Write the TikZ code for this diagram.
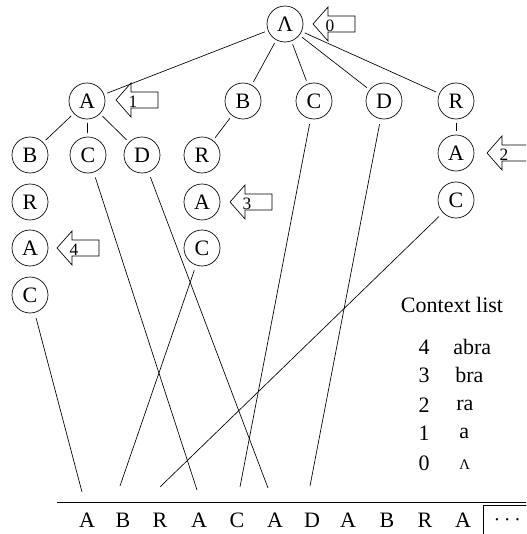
\documentclass[tikz,border=0pt]{standalone}
\usepackage{fontspec}
\setmainfont{Liberation Serif}
\begin{document}
\begin{tikzpicture}[x=0.75pt,y=-0.75pt,
  every node/.style={font=\fontsize{16.5}{19}\selectfont},
  st/.style={draw,circle,minimum size=27pt,inner sep=0pt,line width=0.5pt},
  edge/.style={line width=0.5pt,shorten <=2.5pt,shorten >=2.5pt},
  link/.style={line width=0.5pt,shorten <=4pt},
  pics/larrow/.style={code={
    \draw[line width=0.5pt] (0,0) -- (15,-17) -- (15,-8) -- (42,-8) -- (42,8) -- (15,8) -- (15,17) -- cycle;
    \node[font=\fontsize{13}{15}\selectfont,inner sep=0pt] at (17,1.5) {#1};}}]
\useasboundingbox (0,0) rectangle (526,534);
\clip (0,0) rectangle (526,534);
% trie nodes
\node[st] (r) at (285,24) {Λ};
\node[st] (a1) at (87,101) {A};
\node[st] (b1) at (243,101) {B};
\node[st] (c1) at (314,101) {C};
\node[st] (d1) at (384,101) {D};
\node[st] (r1) at (456,101) {R};
\node[st] (b2) at (30,155) {B};
\node[st] (c2) at (88,155) {C};
\node[st] (d2) at (142,155) {D};
\node[st] (r2) at (202,155) {R};
\node[st] (a2) at (456,153) {A};
\node[st] (r3) at (30,202) {R};
\node[st] (a3) at (202,202) {A};
\node[st] (c3) at (456,200) {C};
\node[st] (a4) at (30,248) {A};
\node[st] (c4) at (202,248) {C};
\node[st] (c5) at (30,295) {C};
% trie edges
\foreach \n in {a1,b1,c1,d1,r1} \draw[edge] (r) -- (\n);
\foreach \n in {b2,c2,d2} \draw[edge] (a1) -- (\n);
\draw[edge] (b1) -- (r2);
\draw[edge] (r1) -- (a2);
% context arrows
\pic at (313,24) {larrow=0};
\pic at (116,100) {larrow=1};
\pic at (487,153) {larrow=2};
\pic at (230,202) {larrow=3};
\pic at (57,248) {larrow=4};
% string
\coordinate (hl) at (57,502);
\coordinate (hr) at (526,502);
\draw[line width=0.7pt] (hl) -- (hr);
\foreach \ch/\x [count=\i] in {A/87,B/123,R/160,A/199,C/237,A/275,D/312,A/348,B/387,R/425,A/463}
  \node (s\i) at (\x,520) {\ch};
\node[draw,line width=0.5pt,minimum width=36pt,minimum height=22pt,anchor=north west,inner sep=0pt] (more) at (483,505) {$\cdots$};
% pointers into the string
\coordinate (p1) at (82,492);
\coordinate (p2) at (120,486);
\coordinate (p3) at (160,487);
\coordinate (p4) at (197,490);
\coordinate (p5) at (240,487);
\coordinate (p6) at (268,488);
\coordinate (p7) at (310,486);
\draw[link] (c5) -- (p1);
\draw[link] (c4) -- (p2);
\draw[link] (c3) -- (p3);
\draw[link] (c2) -- (p4);
\draw[link] (c1) -- (p5);
\draw[link] (d2) -- (p6);
\draw[link] (d1) -- (p7);
% context list
\node (ctitle) at (452,305) {Context list};
\foreach \k/\w/\y/\wx in {4/abra/347/453,3/bra/375/455,2/ra/405/456,1/a/433/459}{
  \node (k\k) at (424,\y) {\k};
  \node[anchor=west,inner sep=0pt] (w\k) at (\wx,\y) {\w};
}
\node (k0) at (424,463) {0};
\node[anchor=west,inner sep=0pt,font=\fontsize{11}{13}\selectfont] (w0) at (459,465) {Λ};
\end{tikzpicture}
\end{document}
